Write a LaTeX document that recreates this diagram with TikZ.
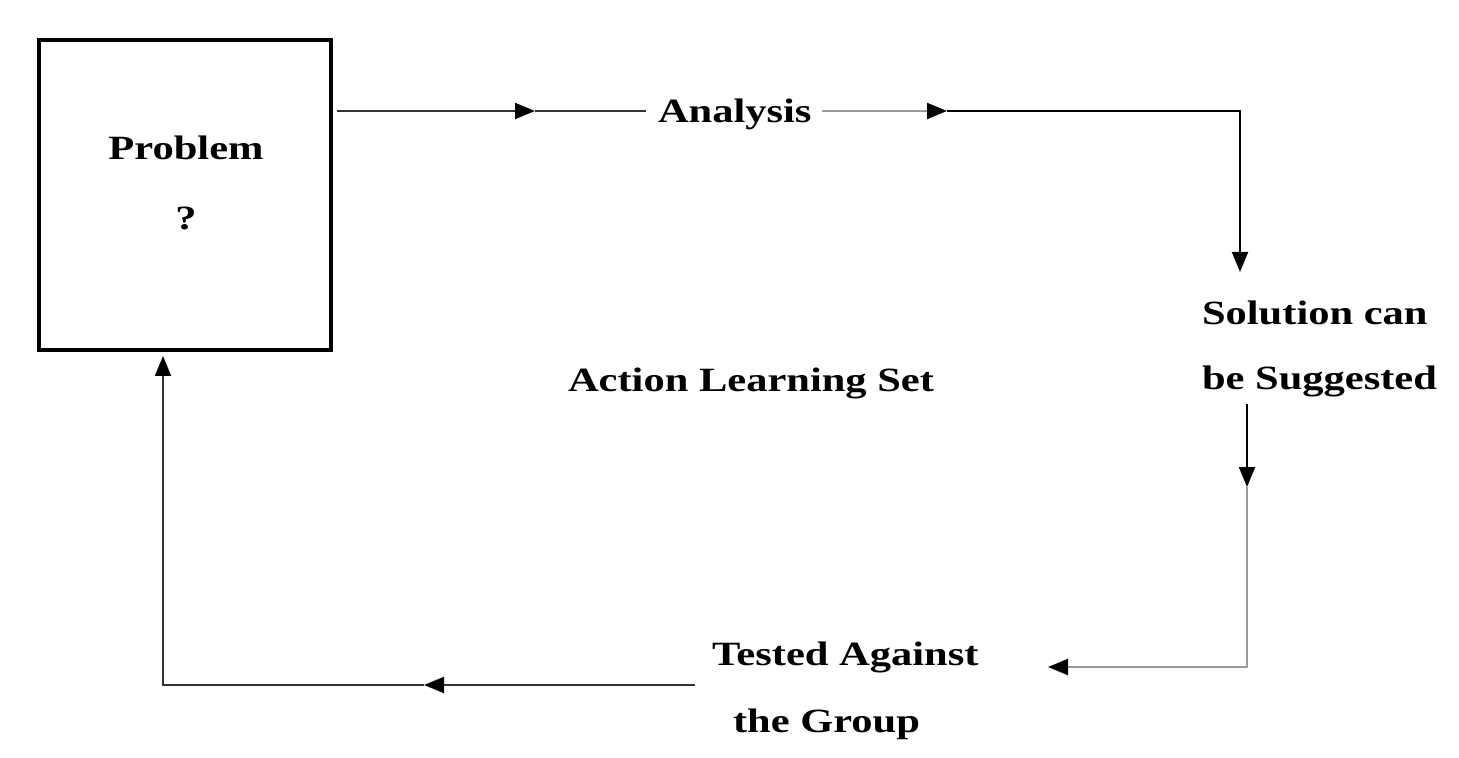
\documentclass[tikz,border=0pt]{standalone}
\usepackage{fontspec}
\newfontfamily\diafont{Liberation Serif}[FakeStretch=1.25]
\usetikzlibrary{arrows.meta}
\begin{document}
\begin{tikzpicture}[x=0.5pt,y=-0.5pt,
  >={Triangle[length=10pt,width=8pt,color=black]},
  txt/.style={font=\diafont\bfseries\fontsize{17pt}{32.5pt}\selectfont,inner sep=0pt,outer sep=0pt,text=black},
  probbox/.style={draw=black,line width=2pt,minimum width=146pt,minimum height=155pt,inner sep=0pt,outer sep=0pt},
  dline/.style={draw=black!80,line width=1pt},
  lline/.style={draw=black!40,line width=1pt},
  bline/.style={draw=black,line width=1pt}]
\useasboundingbox (0,0) rectangle (1459,758);

% nodes
\node[probbox] (problem) at (185,195) {};
\node[txt,anchor=base] (ptext) at (186,160) {Problem};
\node[txt,anchor=base] (qmark) at (186,230) {?};
\node[txt,anchor=base west] (analysis) at (658,123) {Analysis};
\node[txt,anchor=base west] (als) at (568,392) {Action Learning Set};
\node[txt,anchor=base west] (sol1) at (1202,325) {Solution can};
\node[txt,anchor=base west] (sol2) at (1202,390) {be Suggested};
\node[txt,anchor=base west] (tested) at (712,665) {Tested Against};
\node[txt,anchor=base west] (group) at (733,732) {the Group};

% routing coordinates
\coordinate (ya) at (0,111);
\coordinate (m1) at (535,111);
\coordinate (m2) at (947,111);
\coordinate (c2) at (1240,111);
\coordinate (t2) at (1240,272);
\coordinate (x3) at (1247,0);
\coordinate (m3) at (1247,487);
\coordinate (c3) at (1247,667);
\coordinate (t3) at (1048,667);
\coordinate (s4) at (695,685);
\coordinate (m4) at (424,685);
\coordinate (c4) at (163,685);

% Problem -> Analysis
\draw[dline,->] ([xshift=3pt]problem.east |- ya) -- (m1);
\draw[dline] (m1) -- ([xshift=-6pt]analysis.west |- ya);
% Analysis -> Solution
\draw[lline,->] ([xshift=5pt]analysis.east |- ya) -- (m2);
\draw[bline,->] (m2) -- (c2) -- (t2);
% Solution -> Tested
\draw[bline,->] ([yshift=-3.3pt]sol2.south -| x3) -- (m3);
\draw[lline,->] (m3) -- (c3) -- (t3);
% Tested -> Problem
\draw[dline,->] ([xshift=-8.5pt]tested.west |- s4) -- (m4);
\draw[dline,->,shorten >=3pt] (m4) -- (c4) -- (problem.south -| c4);
\end{tikzpicture}
\end{document}
